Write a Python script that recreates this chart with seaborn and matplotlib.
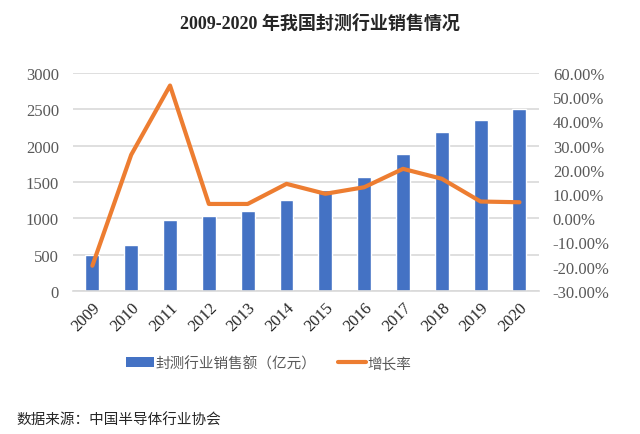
import numpy as np
import pandas as pd
import matplotlib
matplotlib.use('Agg')
import matplotlib.pyplot as plt
import seaborn as sns
from matplotlib.lines import Line2D
from matplotlib.patches import Patch

# Data
years = ['2009', '2010', '2011', '2012', '2013', '2014',
         '2015', '2016', '2017', '2018', '2019', '2020']
sales = [498, 629, 975, 1036, 1099, 1256, 1384, 1564, 1890, 2194, 2350, 2510]
growth = [-19.6, 26.2, 54.8, 5.9, 5.9, 14.2, 10.1, 12.8, 20.4, 16.3, 6.9, 6.6]

left_ticks = [0, 500, 1000, 1500, 2000, 2500, 3000]
right_ticks = [-30, -20, -10, 0, 10, 20, 30, 40, 50, 60]

bar_label = '封测行业销售额（亿元）'
line_label = '增长率'
title = '2009-2020 年我国封测行业销售情况'
source = '数据来源：中国半导体行业协会'

sns.set_style('white')
cjk = ['Noto Sans CJK SC', 'DejaVu Sans']
plt.rcParams['font.family'] = ['serif']
plt.rcParams['font.serif'] = ['Liberation Serif', 'DejaVu Serif']

blue = '#4472C4'
orange = '#ED7D31'
grey = '#595959'

df = pd.DataFrame({'year': years, 'sales': sales, 'growth': growth})

fig = plt.figure(figsize=(6.4, 4.35), dpi=100)
ax = fig.add_axes([0.114, 0.329, 0.728, 0.501])

sns.barplot(data=df, x='year', y='sales', color=blue, width=0.36,
            saturation=1, ax=ax, zorder=2)
ax.set_ylim(0, 3000)
ax.set_yticks(left_ticks)
ax.set_xlim(-0.5, len(years) - 0.5)
ax.yaxis.grid(True, color='#D9D9D9', linewidth=1.2, zorder=0)
ax.set_axisbelow(True)
for side in ['top', 'right', 'left']:
    ax.spines[side].set_visible(False)
ax.spines['bottom'].set_color('#D9D9D9')
ax.spines['bottom'].set_linewidth(1.2)
ax.set_xlabel('')
ax.set_ylabel('')
ax.tick_params(axis='y', length=0, labelsize=12, labelcolor=grey, pad=10,
               labelfontfamily='Liberation Serif')
ax.tick_params(axis='x', which='major', length=0, labelsize=12,
               labelcolor='#262626', pad=6, labelfontfamily='Liberation Serif')
ax.set_xticks(np.arange(-0.5, len(years), 1), minor=True)
ax.tick_params(axis='x', which='minor', length=5, color='#D9D9D9', width=1.2)
for lbl in ax.get_xticklabels():
    lbl.set_rotation(45)
    lbl.set_ha('right')
    lbl.set_rotation_mode('anchor')

ax2 = ax.twinx()
sns.lineplot(x=np.arange(len(years)), y=growth, color=orange, linewidth=3,
             ax=ax2, zorder=3)
ax2.set_ylim(-30, 60)
ax2.set_yticks(right_ticks)
ax2.set_yticklabels([f'{t:.2f}%' for t in right_ticks])
ax2.tick_params(axis='y', length=0, labelsize=12, labelcolor=grey, pad=10,
                labelfontfamily='Liberation Serif')
for side in ['top', 'right', 'left', 'bottom']:
    ax2.spines[side].set_visible(False)
ax2.set_ylabel('')

fig.text(0.5, 0.945, title, ha='center', va='center', fontsize=13,
         fontweight='bold', family=['Liberation Serif', 'Noto Sans CJK SC'])

handles = [Patch(facecolor=blue, edgecolor='none'),
           Line2D([0], [0], color=orange, linewidth=3)]
fig.legend(handles, [bar_label, line_label], loc='center',
           bbox_to_anchor=(0.42, 0.163), ncol=2, frameon=False,
           prop={'family': cjk, 'size': 10.5}, labelcolor=grey,
           handlelength=1.9, handletextpad=0.1, columnspacing=1.5)

fig.text(0.025, 0.034, source, ha='left', va='center', fontsize=10.5,
         family=cjk, color='#262626')

fig.savefig('out.png', dpi=100)
